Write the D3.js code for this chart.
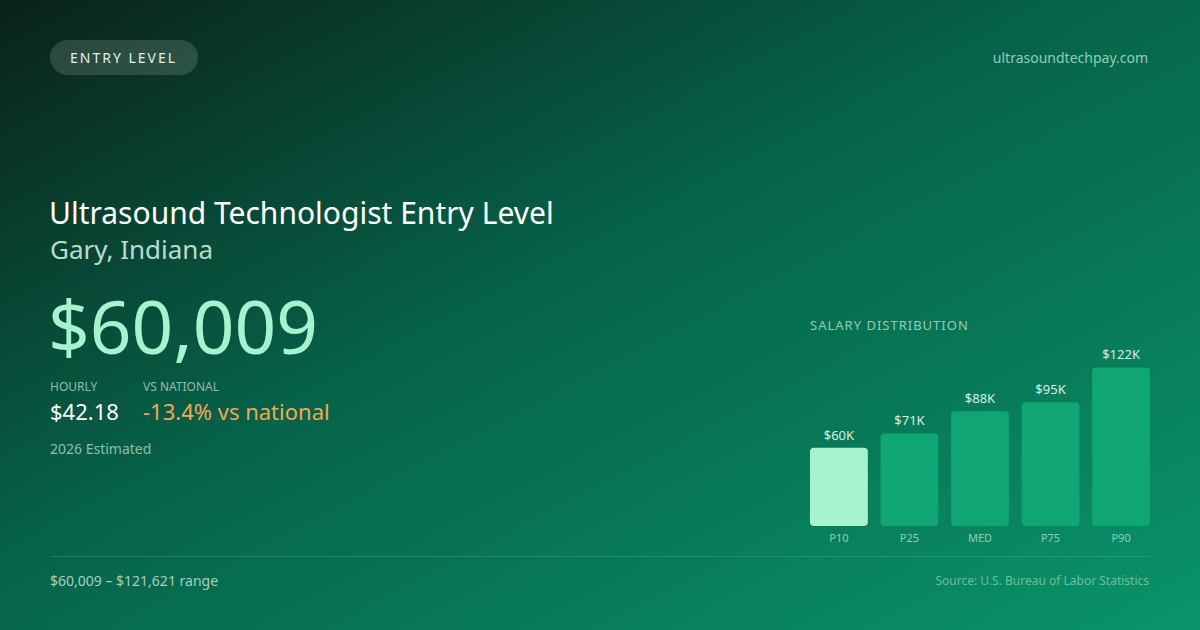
<!DOCTYPE html>
<html>
<head>
<meta charset="utf-8">
<script src="https://cdn.jsdelivr.net/npm/d3@7"></script>
<style>
  html, body { margin: 0; padding: 0; background: #0a5a40; }
  svg { display: block; font-family: "Noto Sans", "Open Sans", sans-serif; }
</style>
</head>
<body>
<div id="vis-container"></div>
<script>
// Chart values
const percentiles = ["P10", "P25", "MED", "P75", "P90"];
const salaries = [60009, 71000, 88000, 95000, 121621];
const barLabels = ["$60K", "$71K", "$88K", "$95K", "$122K"];

const badgeText = "ENTRY LEVEL";
const siteText = "ultrasoundtechpay.com";
const titleText = "Ultrasound Technologist Entry Level";
const locationText = "Gary, Indiana";
const headlineText = "$60,009";
const hourlyText = "$42.18";
const nationalText = "-13.4% vs national";
const yearText = "2026 Estimated";
const rangeText = "$60,009 \u2013 $121,621 range";
const sourceText = "Source: U.S. Bureau of Labor Statistics";

const width = 1200;
const height = 630;

const svg = d3.select("#vis-container")
  .append("svg")
  .attr("width", width)
  .attr("height", height)
  .attr("viewBox", [0, 0, width, height]);

// background gradient, dark top-left to green bottom-right
const defs = svg.append("defs");
const bg = defs.append("linearGradient")
  .attr("id", "bg")
  .attr("x1", "0%").attr("y1", "0%")
  .attr("x2", "100%").attr("y2", "100%");
bg.append("stop").attr("offset", "0%").attr("stop-color", "#0b2219");
bg.append("stop").attr("offset", "45%").attr("stop-color", "#06634a");
bg.append("stop").attr("offset", "100%").attr("stop-color", "#0a9469");

svg.append("rect")
  .attr("width", width)
  .attr("height", height)
  .attr("fill", "url(#bg)");

// badge
svg.append("rect")
  .attr("x", 50).attr("y", 40)
  .attr("width", 148).attr("height", 35)
  .attr("rx", 17.5)
  .attr("fill", "rgba(255,255,255,0.14)");
svg.append("text")
  .attr("x", 70).attr("y", 62.5)
  .attr("font-size", "14px")
  .attr("letter-spacing", "2px")
  .attr("fill", "#e2efe9")
  .text(badgeText);

svg.append("text")
  .attr("x", 1148).attr("y", 63)
  .attr("text-anchor", "end")
  .attr("font-size", "14px")
  .attr("fill", "#8fcfb5")
  .text(siteText);

// headline block
svg.append("text")
  .attr("x", 49).attr("y", 224)
  .attr("font-size", "30px")
  .attr("fill", "#ffffff")
  .text(titleText);
svg.append("text")
  .attr("x", 50).attr("y", 259)
  .attr("font-size", "26px")
  .attr("fill", "#b9dccd")
  .text(locationText);
svg.append("text")
  .attr("x", 48).attr("y", 354)
  .attr("font-size", "73px")
  .attr("fill", "#a7f3d0")
  .text(headlineText);

svg.append("text")
  .attr("x", 50).attr("y", 391)
  .attr("font-size", "12px")
  .attr("fill", "#8fbfa9")
  .text("HOURLY");
svg.append("text")
  .attr("x", 143).attr("y", 391)
  .attr("font-size", "12px")
  .attr("fill", "#8fbfa9")
  .text("VS NATIONAL");
svg.append("text")
  .attr("x", 50).attr("y", 420)
  .attr("font-size", "22px")
  .attr("fill", "#ffffff")
  .text(hourlyText);
svg.append("text")
  .attr("x", 143).attr("y", 420)
  .attr("font-size", "22px")
  .attr("fill", "#f0a855")
  .text(nationalText);
svg.append("text")
  .attr("x", 50).attr("y", 454)
  .attr("font-size", "14px")
  .attr("fill", "#8fbfa9")
  .text(yearText);

// salary distribution bars
svg.append("text")
  .attr("x", 810).attr("y", 330)
  .attr("font-size", "13px")
  .attr("letter-spacing", "1px")
  .attr("fill", "#8fcfb5")
  .text("SALARY DISTRIBUTION");

const xScale = d3.scaleBand()
  .domain(percentiles)
  .range([810, 1150])
  .paddingInner(0.18)
  .paddingOuter(0);

const yScale = d3.scaleLinear()
  .domain([0, 122000])
  .range([526, 367]);

const bars = svg.append("g");
bars.selectAll("rect")
  .data(salaries)
  .join("rect")
  .attr("x", (d, i) => xScale(percentiles[i]))
  .attr("y", d => yScale(d))
  .attr("width", xScale.bandwidth())
  .attr("height", d => yScale(0) - yScale(d))
  .attr("rx", 4)
  .attr("fill", (d, i) => i === 0 ? "#a7f3d0" : "#10a574");

bars.selectAll(".val")
  .data(salaries)
  .join("text")
  .attr("class", "val")
  .attr("x", (d, i) => xScale(percentiles[i]) + xScale.bandwidth() / 2)
  .attr("y", d => yScale(d) - 8)
  .attr("text-anchor", "middle")
  .attr("font-size", "13px")
  .attr("fill", "#d8efe4")
  .text((d, i) => barLabels[i]);

// category axis without line/ticks
const xAxis = svg.append("g")
  .attr("transform", "translate(0,526)")
  .call(d3.axisBottom(xScale).tickSize(0).tickPadding(8));
xAxis.select(".domain").remove();
xAxis.selectAll("text")
  .attr("font-size", "11px")
  .attr("font-family", "'Noto Sans', sans-serif")
  .attr("fill", "#8fcfb5");

// footer
svg.append("line")
  .attr("x1", 50).attr("x2", 1150)
  .attr("y1", 556.5).attr("y2", 556.5)
  .attr("stroke", "rgba(255,255,255,0.12)")
  .attr("stroke-width", 1);
svg.append("text")
  .attr("x", 50).attr("y", 586)
  .attr("font-size", "14px")
  .attr("fill", "#a9cfbf")
  .text(rangeText);
svg.append("text")
  .attr("x", 1149).attr("y", 585)
  .attr("text-anchor", "end")
  .attr("font-size", "12px")
  .attr("fill", "#6cbf9c")
  .text(sourceText);
</script>
</body>
</html>
